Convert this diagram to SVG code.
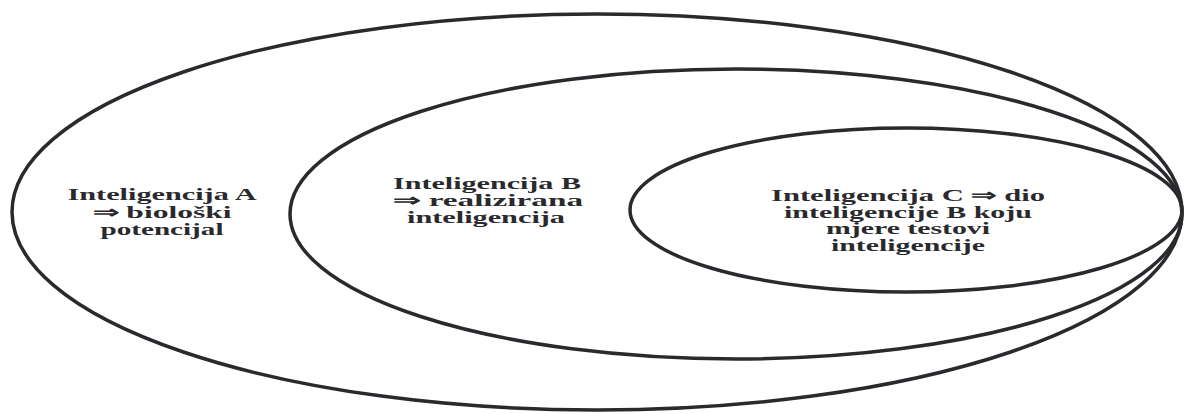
<svg xmlns="http://www.w3.org/2000/svg" width="1188" height="414" viewBox="0 0 1188 414">
  <style>
    .ring { fill: none; stroke: #2a2a2e; stroke-width: 3.5; }
    .lbl { font-family: "Liberation Serif", "Times New Roman", serif; font-weight: bold; font-size: 17px; fill: #2a2a2e; text-anchor: middle; }
  </style>
  <rect x="0" y="0" width="1188" height="414" fill="#ffffff"/>
  <g id="node-A">
    <ellipse class="ring" cx="597" cy="212" rx="585" ry="198"/>
    <text class="lbl" x="162" y="200" textLength="189" lengthAdjust="spacingAndGlyphs">Inteligencija A</text>
    <text class="lbl" x="162" y="217.5" textLength="139" lengthAdjust="spacingAndGlyphs">⇒ biološki</text>
    <text class="lbl" x="162" y="235" textLength="123" lengthAdjust="spacingAndGlyphs">potencijal</text>
  </g>
  <g id="node-B">
    <ellipse class="ring" cx="736" cy="214" rx="446" ry="145"/>
    <text class="lbl" x="487" y="189" textLength="188" lengthAdjust="spacingAndGlyphs">Inteligencija B</text>
    <text class="lbl" x="488" y="206" textLength="190" lengthAdjust="spacingAndGlyphs">⇒ realizirana</text>
    <text class="lbl" x="486" y="223" textLength="158" lengthAdjust="spacingAndGlyphs">inteligencija</text>
  </g>
  <g id="node-C">
    <ellipse class="ring" cx="906" cy="210" rx="276" ry="82"/>
    <text class="lbl" x="908" y="200.5" textLength="274" lengthAdjust="spacingAndGlyphs">Inteligencija C ⇒ dio</text>
    <text class="lbl" x="908" y="217.5" textLength="248" lengthAdjust="spacingAndGlyphs">inteligencije B koju</text>
    <text class="lbl" x="908" y="234" textLength="164" lengthAdjust="spacingAndGlyphs">mjere testovi</text>
    <text class="lbl" x="908" y="251" textLength="154" lengthAdjust="spacingAndGlyphs">inteligencije</text>
  </g>
  <g id="connectors"></g>
</svg>
